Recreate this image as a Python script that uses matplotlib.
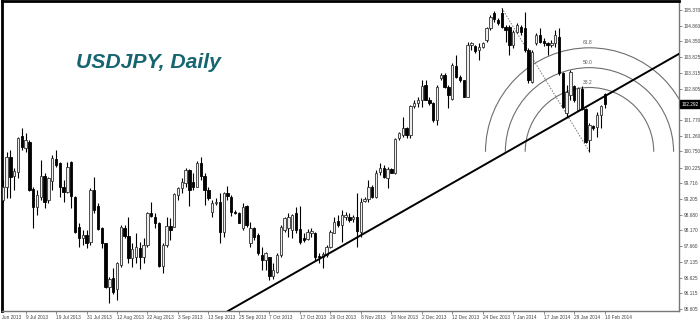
import numpy as np
import pandas as pd
import matplotlib
matplotlib.use("Agg")
import matplotlib.pyplot as plt
import matplotlib.transforms as mtrans
from matplotlib.patches import Arc

# ---------------- data ----------------
opens = [99.16, 99.60, 100.58, 99.95, 100.09, 101.26, 100.85, 101.07, 99.51, 98.95,
         99.25, 99.95, 99.16, 99.80, 100.49, 100.36, 99.60, 99.44, 100.42, 99.25,
         98.29, 97.91, 98.02, 97.80, 99.49, 98.97, 98.24, 97.75, 96.33, 96.61,
         96.26, 97.04, 98.24, 97.99, 97.26, 97.31, 97.59, 97.31, 97.70, 98.75,
         98.60, 98.42, 97.01, 97.70, 98.32, 98.29, 99.33, 99.55, 99.73, 100.14,
         99.76, 99.60, 100.38, 99.95, 99.49, 98.78, 99.06, 99.11, 98.13, 99.38,
         99.27, 98.78, 98.73, 98.24, 98.97, 97.75, 98.24, 98.02, 97.37, 97.21,
         97.29, 96.68, 96.82, 97.37, 98.19, 98.24, 98.19, 98.75, 98.21, 97.91,
         97.88, 98.08, 98.10, 97.34, 97.31, 97.37, 97.64, 98.10, 98.49, 98.35,
         98.62, 98.62, 98.53, 98.62, 98.13, 99.14, 99.19, 99.60, 99.25, 100.09,
         100.20, 99.87, 100.17, 100.04, 101.18, 101.29, 101.51, 101.29, 102.24, 102.32,
         102.44, 102.92, 102.44, 102.32, 101.78, 103.14, 103.25, 102.87, 102.45, 103.54,
         103.17, 103.08, 102.54, 104.23, 104.20, 104.06, 104.17, 104.39, 104.77, 105.28,
         105.04, 105.26, 104.83, 104.83, 104.23, 104.66, 104.83, 104.77, 104.06, 103.03,
         104.28, 104.55, 104.37, 104.30, 104.23, 104.28, 104.50, 103.32, 102.00, 102.59,
         102.89, 102.10, 102.78, 102.13, 101.12, 101.58, 101.56, 101.94, 102.62]
highs = [99.82, 100.74, 100.80, 100.20, 101.23, 101.51, 101.34, 101.12, 99.60, 99.49,
         100.47, 100.04, 99.93, 100.63, 100.80, 100.42, 99.82, 100.42, 100.45, 99.30,
         98.40, 98.19, 98.19, 99.55, 99.93, 99.06, 98.29, 97.77, 96.66, 96.93,
         97.15, 98.35, 98.35, 98.62, 97.75, 98.08, 97.80, 97.91, 98.78, 99.11,
         98.73, 98.46, 97.75, 98.62, 98.57, 99.40, 99.60, 99.87, 100.20, 100.17,
         100.04, 100.45, 100.58, 100.04, 99.60, 99.16, 99.22, 99.38, 99.44, 99.62,
         99.33, 98.85, 98.78, 99.06, 98.99, 98.46, 98.27, 98.08, 97.64, 97.48,
         97.31, 97.10, 97.42, 98.35, 98.60, 98.73, 98.71, 98.95, 98.97, 98.08,
         98.21, 98.24, 98.13, 97.42, 97.47, 97.70, 98.19, 98.62, 98.68, 98.84,
         98.78, 98.73, 98.68, 99.38, 99.22, 99.27, 99.82, 99.65, 100.15, 100.38,
         100.31, 100.25, 100.20, 101.18, 101.40, 101.89, 101.56, 102.27, 102.43, 102.54,
         103.08, 103.08, 102.54, 102.38, 102.92, 103.32, 103.30, 102.92, 103.63, 103.90,
         103.25, 103.08, 104.34, 104.34, 104.23, 104.28, 104.34, 104.83, 105.21, 105.35,
         105.10, 105.43, 104.88, 104.88, 104.72, 104.94, 104.88, 105.32, 104.12, 104.06,
         104.61, 104.77, 104.45, 104.34, 104.39, 104.72, 104.77, 103.36, 102.92, 103.41,
         102.92, 102.87, 102.89, 102.16, 101.67, 101.61, 102.05, 102.27, 102.65]
lows = [99.11, 99.22, 99.22, 99.49, 99.87, 100.80, 100.74, 99.45, 98.24, 98.67,
        99.16, 98.89, 99.06, 99.49, 100.25, 99.27, 99.11, 99.38, 98.89, 98.08,
        97.64, 97.70, 97.59, 97.70, 98.73, 98.19, 97.59, 96.28, 95.79, 96.10,
        95.90, 96.99, 97.91, 97.10, 96.99, 97.10, 96.90, 97.10, 97.64, 98.62,
        98.24, 96.99, 96.79, 97.64, 97.86, 98.27, 99.16, 99.38, 99.60, 98.98,
        99.49, 99.58, 99.82, 99.00, 99.16, 98.62, 99.00, 97.75, 97.97, 99.16,
        98.64, 98.70, 98.40, 98.19, 98.29, 97.64, 97.86, 97.37, 96.88, 96.88,
        96.55, 96.60, 96.77, 97.31, 98.13, 97.97, 97.91, 98.08, 97.73, 97.80,
        97.86, 97.97, 97.21, 97.10, 96.93, 97.31, 97.59, 98.08, 98.29, 97.80,
        98.51, 98.46, 98.46, 97.64, 97.97, 99.11, 99.11, 99.22, 99.22, 99.98,
        99.87, 99.55, 100.04, 100.01, 101.13, 101.23, 101.18, 101.18, 102.16, 102.21,
        102.21, 102.44, 102.27, 101.72, 101.61, 103.08, 102.81, 102.16, 102.44, 103.14,
        103.03, 102.52, 102.52, 104.06, 103.96, 103.74, 104.12, 104.34, 104.72, 104.99,
        104.88, 104.77, 104.34, 103.90, 104.12, 104.61, 104.55, 104.01, 102.98, 102.98,
        104.23, 104.28, 104.20, 103.90, 104.17, 104.17, 103.25, 102.16, 101.89, 102.44,
        102.38, 102.10, 102.10, 101.02, 100.74, 101.45, 101.23, 101.51, 102.16]
closes = [99.60, 100.58, 99.93, 100.12, 101.18, 100.88, 101.12, 99.49, 98.95, 99.33,
          99.95, 99.11, 99.87, 100.53, 100.31, 99.58, 99.44, 100.23, 99.30, 98.13,
          97.91, 98.02, 97.77, 99.49, 98.84, 98.21, 97.75, 96.33, 96.57, 96.17,
          97.10, 98.27, 97.99, 97.26, 97.55, 97.64, 97.29, 97.70, 98.75, 98.64,
          98.42, 97.01, 97.70, 98.32, 98.19, 99.36, 99.55, 99.76, 100.14, 99.50,
          99.60, 100.38, 99.95, 99.49, 99.22, 99.06, 99.11, 98.13, 99.38, 99.29,
          98.78, 98.73, 98.42, 98.95, 98.35, 98.24, 97.97, 97.42, 97.21, 97.42,
          96.68, 96.88, 97.37, 98.29, 98.57, 98.62, 98.68, 98.19, 97.80, 97.86,
          98.13, 98.15, 97.31, 97.29, 97.40, 97.64, 98.13, 98.46, 98.35, 98.68,
          98.68, 98.51, 98.60, 98.16, 99.11, 99.19, 99.60, 99.27, 100.06, 100.20,
          99.93, 100.17, 100.06, 101.15, 101.34, 101.53, 101.29, 102.24, 102.32, 102.44,
          102.89, 102.44, 102.32, 101.78, 102.87, 103.25, 102.87, 102.59, 103.57, 103.19,
          103.08, 102.54, 104.23, 104.28, 104.04, 104.17, 104.28, 104.77, 105.15, 105.07,
          104.94, 104.83, 104.72, 104.23, 104.66, 104.88, 104.66, 104.06, 103.08, 104.01,
          104.55, 104.34, 104.28, 104.23, 104.28, 104.55, 103.30, 102.21, 102.70, 103.36,
          102.44, 102.81, 102.13, 101.07, 101.61, 101.51, 101.94, 102.24, 102.292]

date_start = "2013-07-01"
date_end = "2014-02-10"
holidays = ["2013-12-25", "2014-01-01"]

xtick_labels = ["9 Jul 2013", "19 Jul 2013", "31 Jul 2013", "12 Aug 2013", "22 Aug 2013",
                "3 Sep 2013", "13 Sep 2013", "25 Sep 2013", "7 Oct 2013", "17 Oct 2013",
                "29 Oct 2013", "8 Nov 2013", "20 Nov 2013", "2 Dec 2013", "12 Dec 2013",
                "24 Dec 2013", "7 Jan 2014", "17 Jan 2014", "29 Jan 2014", "10 Feb 2014"]
first_partial_label = "27 Jun 2013"

ytick_values = [105.370, 104.860, 104.350, 103.825, 103.315, 102.805, 101.770, 101.260,
                100.750, 100.225, 99.716, 99.205, 98.680, 98.170, 97.660, 97.135,
                96.625, 96.115, 95.605]

fib_ratios = [0.382, 0.500, 0.618]
trend_x = [72, 155]
trend_y = [96.38, 102.27]

title = "USDJPY, Daily"

# ---------------- figure ----------------
W_PX, H_PX = 700, 320
fig = plt.figure(figsize=(7, 3.2), dpi=100)
ax_rect = [2 / W_PX, 1 - 311 / H_PX, 677 / W_PX, 310 / H_PX]
ax = fig.add_axes(ax_rect)

dates = pd.bdate_range(date_start, date_end)
dates = dates[~dates.isin(pd.to_datetime(holidays))]
n = len(opens)
idx = np.arange(1, n + 1)

xmin, xmax = 0.816, 178.5
ymin, ymax = 95.539, 105.664
ax.set_xlim(xmin, xmax)
ax.set_ylim(ymin, ymax)

o = np.array(opens); h = np.array(highs); l = np.array(lows); c = np.array(closes)
up = c >= o

# wicks
ax.vlines(idx, l, h, color="black", lw=0.8, zorder=2)
# bodies
body_w = 0.62
ax.bar(idx[up], (c - o)[up], bottom=o[up], width=body_w, color="#eeeeee",
       edgecolor="#333333", linewidth=0.6, zorder=3)
ax.bar(idx[~up], (o - c)[~up], bottom=c[~up], width=body_w, color="black",
       edgecolor="black", linewidth=0.6, zorder=3)

# trend line
ax.axline((trend_x[0], trend_y[0]), (trend_x[1], trend_y[1]), color="black", lw=1.4, zorder=4)

# Fibonacci arcs (circles in screen space)
hi_i = int(np.argmax(h))
lo_i = hi_i + int(np.argmin(l[hi_i:]))
x_hi, y_hi = idx[hi_i], h[hi_i]
x_lo, y_lo = idx[lo_i], l[lo_i]
px_per_bar = ax_rect[2] * W_PX / (xmax - xmin)
px_per_price = ax_rect[3] * H_PX / (ymax - ymin)
dist = np.hypot((x_lo - x_hi) * px_per_bar, (y_hi - y_lo) * px_per_price)
ax.plot([x_hi, x_lo], [y_hi, y_lo], color="#777777", lw=0.7, ls=(0, (1.5, 1.5)), zorder=1)
for r in fib_ratios:
    rad = r * dist
    ax.add_patch(Arc((x_lo, y_lo), 2 * rad / px_per_bar, 2 * rad / px_per_price,
                     theta1=0, theta2=180, color="#6e6e6e", lw=0.8, zorder=1))
    ax.text(x_lo - 0.5, y_lo + rad / px_per_price + 2.5 / px_per_price, f"{r * 100:.1f}",
            fontsize=3.6, color="#555555", ha="center", va="bottom", zorder=5,
            family=["Liberation Sans", "DejaVu Sans"])

# axes styling
for side in ["left", "top"]:
    ax.spines[side].set_color("black")
    ax.spines[side].set_linewidth(2)
for side in ["right", "bottom"]:
    ax.spines[side].set_color("#777777")
    ax.spines[side].set_linewidth(1)

small_font = ["Liberation Sans", "DejaVu Sans"]
lab_size = 3.4

ax.yaxis.tick_right()
ax.set_yticks(ytick_values)
ax.set_yticklabels([f"{v:.3f}" for v in ytick_values], family=small_font)
ax.tick_params(axis="y", length=2, width=0.6, color="#777777", labelsize=lab_size,
               labelcolor="#444444", pad=1.5)

tick_dates = pd.to_datetime(xtick_labels, format="%d %b %Y")
tick_pos = [int(np.where(dates == d)[0][0]) + 1 for d in tick_dates]
ax.set_xticks(tick_pos)
ax.set_xticklabels(xtick_labels, family=small_font)
ax.tick_params(axis="x", length=2, width=0.6, color="#777777", labelsize=lab_size,
               labelcolor="#444444", pad=0.8)
for t in ax.get_xticklabels():
    t.set_ha("left")

blend_x = mtrans.blended_transform_factory(ax.transData, ax.transAxes)
ax.text(-1, -0.012, first_partial_label, transform=blend_x, fontsize=lab_size,
        color="#444444", ha="left", va="top", clip_on=False, family=small_font)

# current price box
blend_y = mtrans.blended_transform_factory(ax.transAxes, ax.transData)
ax.text(1.004, closes[-1], f"{closes[-1]:.3f}", transform=blend_y, fontsize=lab_size,
        color="white", ha="left", va="center", clip_on=False, family=small_font,
        bbox=dict(boxstyle="square,pad=0.3", fc="black", ec="black"))

# title
fig.text(76 / W_PX, 1 - 68 / H_PX, title, fontsize=15.2, fontweight="bold",
         fontstyle="italic", family=["Liberation Sans", "DejaVu Sans"], color="#176570",
         ha="left", va="baseline", zorder=6)

fig.savefig("out.png", dpi=100, facecolor="white")
